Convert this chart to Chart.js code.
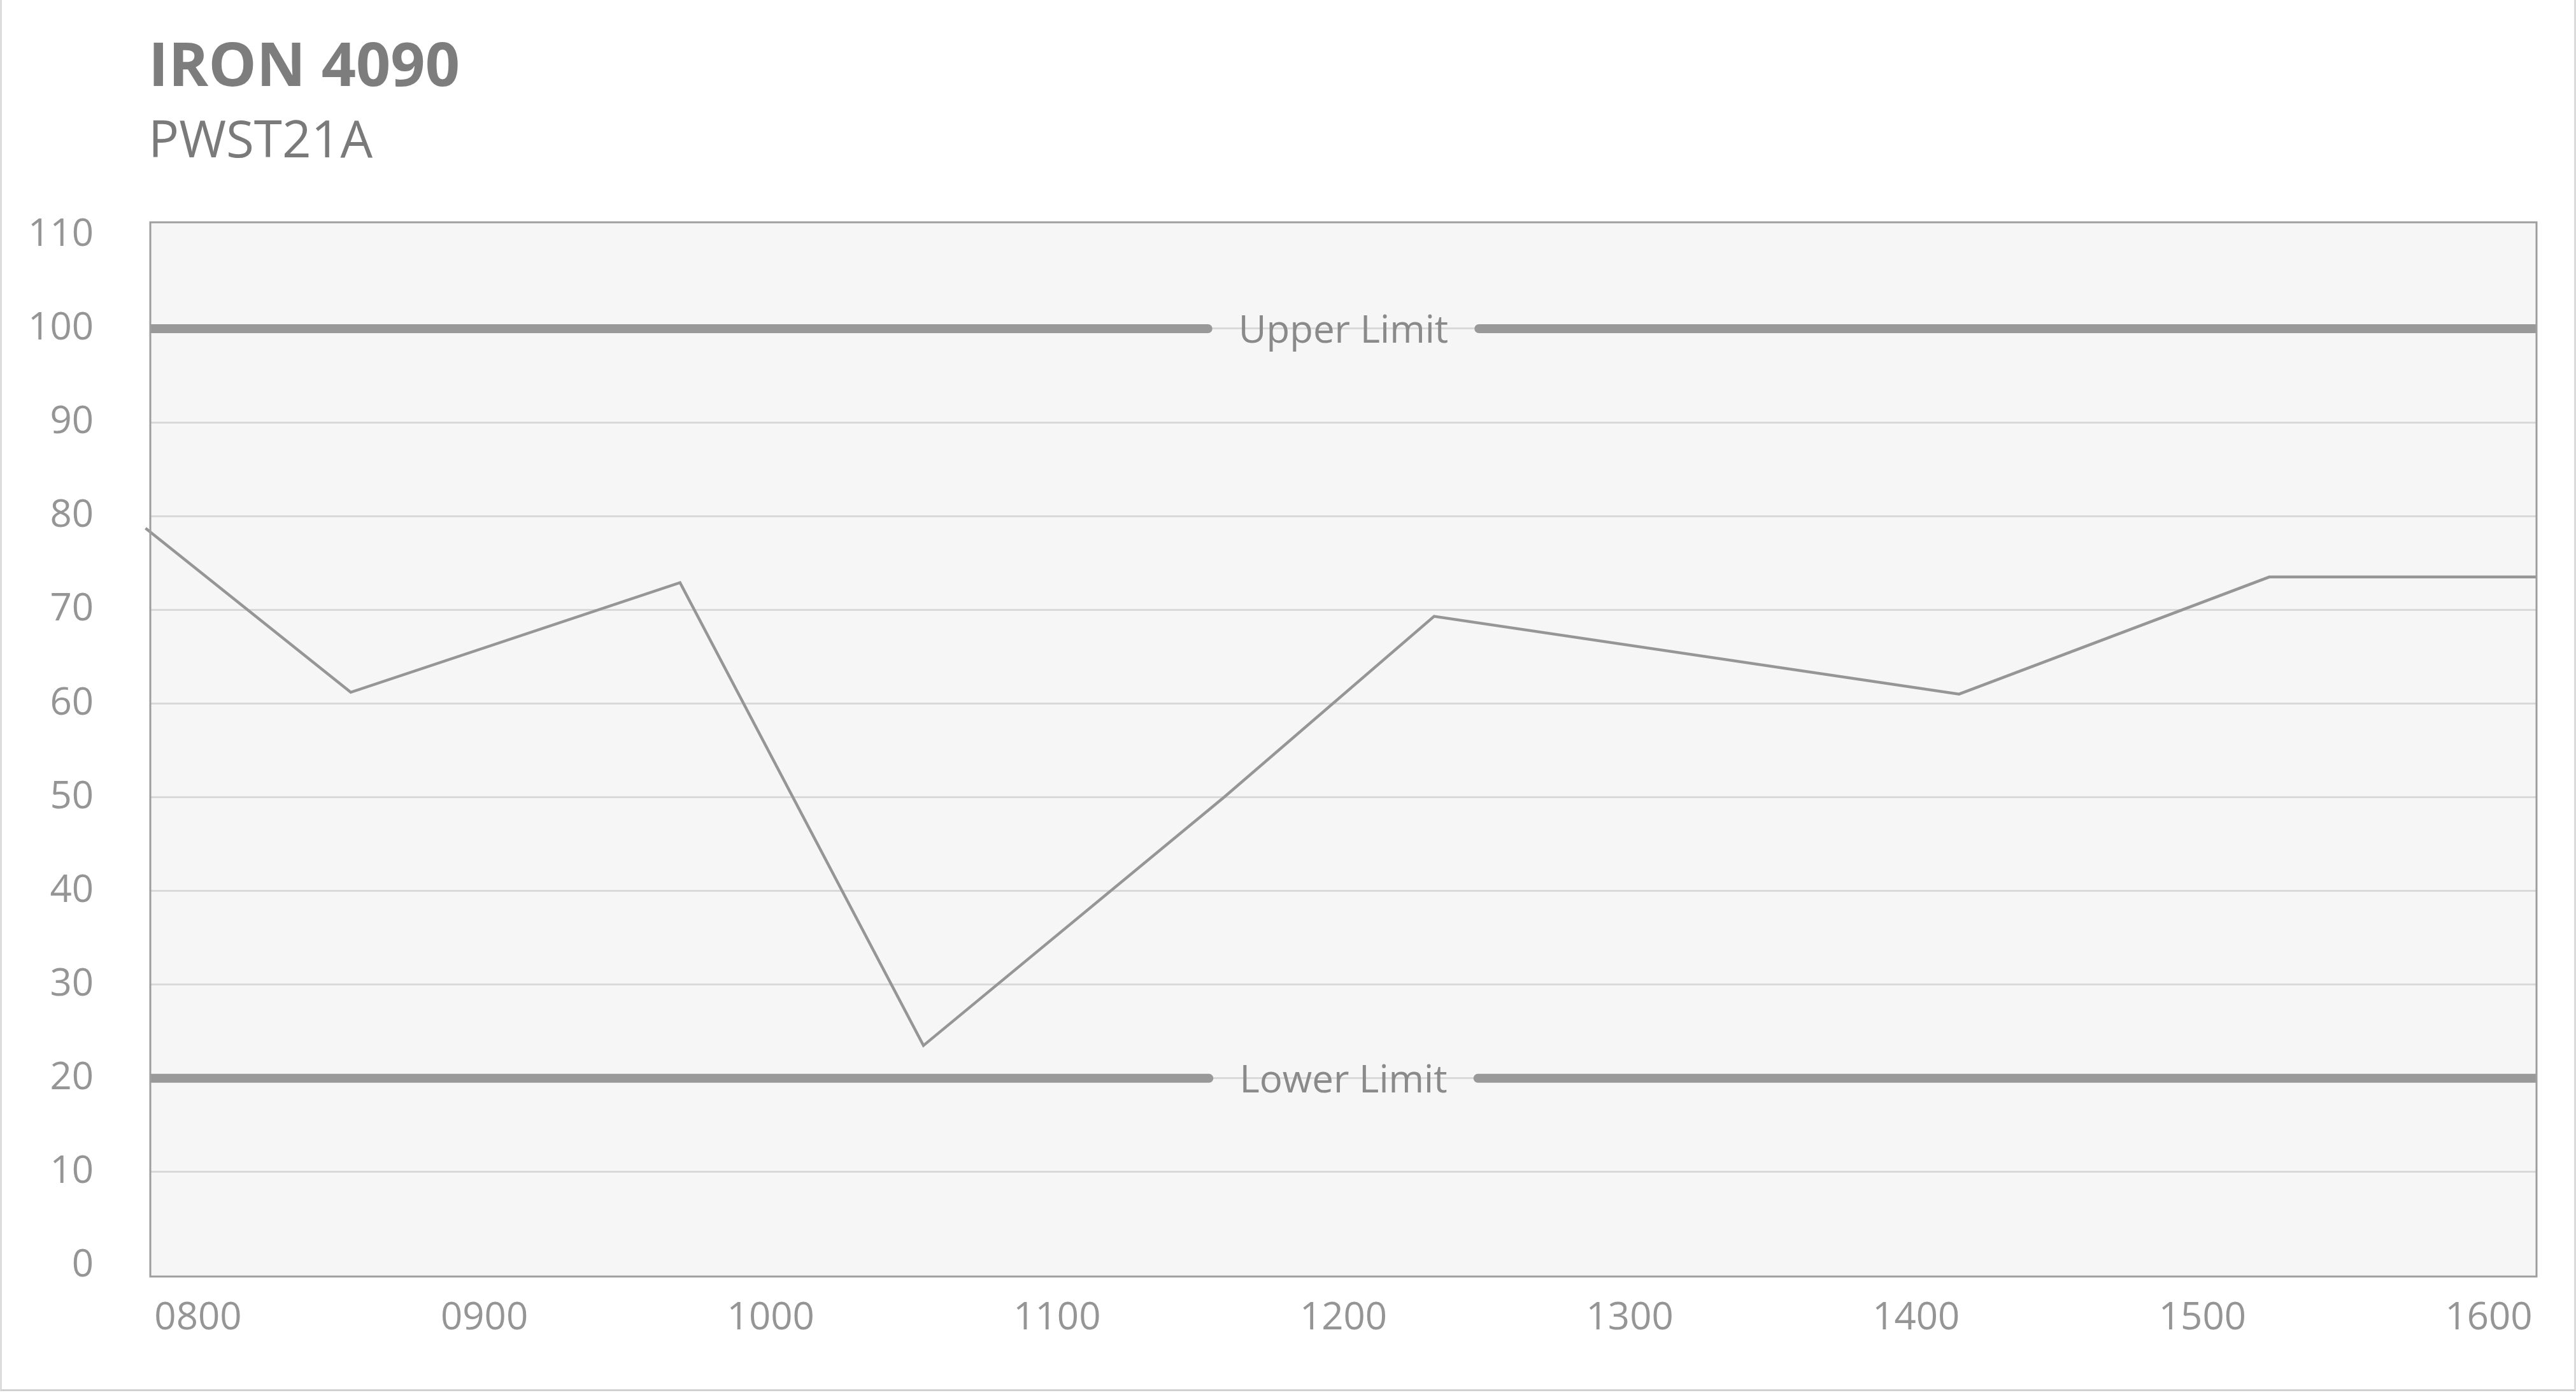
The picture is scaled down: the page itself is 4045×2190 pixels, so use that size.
<!DOCTYPE html>
<html>
<head>
<meta charset="utf-8">
<title>IRON 4090 - PWST21A</title>
<script src="https://cdn.jsdelivr.net/npm/chart.js@4.4.1/dist/chart.umd.min.js"></script>
<style>
  html, body { margin: 0; padding: 0; background: #ffffff; }
  body { width: 4045px; height: 2190px; position: relative; overflow: hidden; font-family: 'Open Sans', sans-serif; }
  #frame { position: absolute; left: 0; top: 0; width: 4039px; height: 2181px;
           border-left: 3px solid #dcdcdc; border-right: 3px solid #dcdcdc; border-bottom: 3px solid #d0d0d0; }
  #title { position: absolute; left: 233px; top: 51px; font-size: 95px; line-height: 1; font-weight: 700; color: #7d7d7d; }
  #subtitle { position: absolute; left: 233px; top: 176px; font-size: 80px; line-height: 1; font-weight: 400; color: #7a7a7a; }
  canvas { position: absolute; left: 0; top: 0; }
</style>
</head>
<body>
<div id="frame"></div>
<div id="title">IRON 4090</div>
<div id="subtitle">PWST21A</div>
<canvas id="chart" width="4045" height="2190"></canvas>
<script>
// Pomiary (czas HH:MM -> wartość)
const times = ['07:49', '08:32', '09:41', '10:32', '11:35', '12:19', '14:09', '15:14', '16:10'];
const values = [78.7, 61.2, 72.9, 23.5, 50.0, 69.3, 61.0, 73.5, 73.5];

// Osie
const xTicks = [8, 9, 10, 11, 12, 13, 14, 15, 16];
const xTickLabels = ['0800', '0900', '1000', '1100', '1200', '1300', '1400', '1500', '1600'];
const yTicks = [0, 10, 20, 30, 40, 50, 60, 70, 80, 90, 100, 110];

// Limity
const limitValues = [100, 20];
const limitLabels = ['Upper Limit', 'Lower Limit'];

const FONT = "'Open Sans', sans-serif";

function toHours(t) {
  const [h, m] = t.split(':').map(Number);
  return h + m / 60;
}

// Tło, ramka i linie limitów
const framePlugin = {
  id: 'framePlugin',
  beforeDraw(chart) {
    const { ctx, chartArea: a } = chart;
    ctx.save();
    ctx.fillStyle = '#f6f6f6';
    ctx.fillRect(a.left, a.top, a.right - a.left, a.bottom - a.top);
    ctx.restore();
  },
  beforeDatasetsDraw(chart) {
    const { ctx, chartArea: a, scales } = chart;
    const cx = (a.left + a.right) / 2;
    ctx.save();
    ctx.beginPath();
    ctx.rect(a.left, a.top, a.right - a.left, a.bottom - a.top);
    ctx.clip();
    ctx.font = '60px ' + FONT;
    limitValues.forEach((v, i) => {
      const y = scales.y.getPixelForValue(v);
      const w = ctx.measureText(limitLabels[i]).width;
      ctx.strokeStyle = '#999999';
      ctx.lineWidth = 14;
      ctx.lineCap = 'round';
      ctx.beginPath();
      ctx.moveTo(a.left - 10, y);
      ctx.lineTo(cx - w / 2 - 48, y);
      ctx.moveTo(cx + w / 2 + 48, y);
      ctx.lineTo(a.right + 10, y);
      ctx.stroke();
      ctx.fillStyle = '#8a8a8a';
      ctx.textAlign = 'center';
      ctx.textBaseline = 'alphabetic';
      ctx.fillText(limitLabels[i], cx, y + 22);
    });
    ctx.restore();
  },
  afterDraw(chart) {
    const { ctx, chartArea: a } = chart;
    ctx.save();
    ctx.strokeStyle = '#9e9e9e';
    ctx.lineWidth = 3;
    ctx.strokeRect(a.left, a.top, a.right - a.left, a.bottom - a.top);
    ctx.restore();
  }
};

new Chart(document.getElementById('chart').getContext('2d'), {
  type: 'line',
  data: {
    datasets: [{
      data: times.map((t, i) => ({ x: toHours(t), y: values[i] })),
      borderColor: '#969696',
      borderWidth: 4.5,
      pointRadius: 0,
      tension: 0,
      fill: false,
      clip: false
    }]
  },
  options: {
    responsive: false,
    animation: false,
    devicePixelRatio: 1,
    layout: { padding: { top: 349, right: 62, bottom: 0, left: 0 } },
    plugins: {
      legend: { display: false },
      tooltip: { enabled: false }
    },
    scales: {
      x: {
        type: 'linear',
        min: 7 + 50 / 60,
        max: 16 + 10 / 60,
        afterBuildTicks: (scale) => { scale.ticks = xTicks.map(v => ({ value: v })); },
        afterFit: (scale) => { scale.height = 186; },
        grid: { display: false, drawTicks: false },
        border: { display: false },
        ticks: {
          autoSkip: false,
          maxRotation: 0,
          padding: 30,
          color: '#959595',
          font: { family: FONT, size: 60 },
          callback: (v, i) => xTickLabels[i]
        }
      },
      y: {
        min: -1.15,
        max: 111.35,
        afterBuildTicks: (scale) => { scale.ticks = yTicks.map(v => ({ value: v })); },
        afterFit: (scale) => { scale.width = 236; },
        grid: {
          drawTicks: false,
          lineWidth: 3,
          color: (c) => (c.tick && (c.tick.value === 0 || c.tick.value === 110)) ? 'rgba(0,0,0,0)' : '#d9d9d9'
        },
        border: { display: false },
        ticks: {
          padding: 89,
          color: '#959595',
          font: { family: FONT, size: 60 },
          callback: (v) => String(v)
        }
      }
    }
  },
  plugins: [framePlugin]
});
</script>
</body>
</html>
